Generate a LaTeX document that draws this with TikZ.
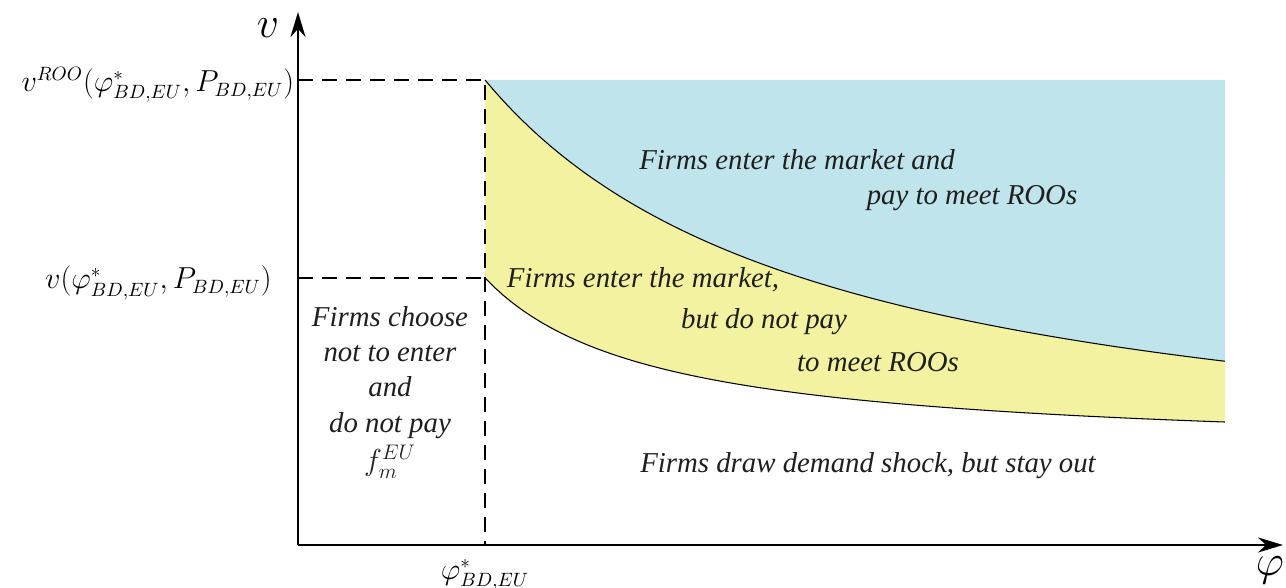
\documentclass[tikz,border=0pt]{standalone}
\usepackage{fontspec}
\usepackage{amsmath}
\newfontfamily\labelfont{Liberation Serif}
\usetikzlibrary{arrows.meta, positioning}
\definecolor{payblue}{RGB}{191,228,236}
\definecolor{enteryellow}{RGB}{242,242,160}
\begin{document}
\begin{tikzpicture}[
    declare function={vroo(\x)=1.075+56.26/(3.1+\x); vlow(\x)=1.806+11.864/(\x-0.384);},
    axis/.style={
      line width=1.6pt,
      -{Stealth[length=5mm, width=3mm]}
    },
    guide/.style={
      dashed,
      line width=1.1pt,
      dash pattern=on 3mm off 1.8mm
    },
    curve/.style={
      line width=0.6pt,
      samples=80
    },
    region/.style={
      font=\labelfont\itshape\fontsize{16.4}{20}\selectfont,
      text=black!88,
      align=center,
      inner sep=0pt
    },
    tick/.style={
      font=\fontsize{16}{20}\selectfont,
      inner sep=2pt
    },
    axlabel/.style={
      font=\fontsize{23}{26}\selectfont,
      inner sep=0pt
    }
  ]

    \useasboundingbox (-5.96,-0.86) rectangle (19.76,10.9);

    % Key points
    \coordinate (origin) at (0,0);
    \coordinate (xend) at (19.7,0);
    \coordinate (yend) at (0,10.66);
    \coordinate (roo) at (0,9.3);
    \coordinate (low) at (0,5.34);
    \coordinate (cut) at (3.74,0);
    \coordinate (cutroo) at (3.74,9.3);
    \coordinate (cutlow) at (3.74,5.34);
    \coordinate (edge) at (18.54,9.3);

    % Regions
    \fill[payblue] (cutroo) -- plot[domain=3.74:18.54, samples=80] (\x,{vroo(\x)}) -- (edge) -- cycle;
    \fill[enteryellow] plot[domain=3.74:18.54, samples=80] (\x,{vroo(\x)})
      -- plot[domain=18.54:3.74, samples=80] (\x,{vlow(\x)}) -- cycle;

    % Cutoff curves
    \draw[curve] plot[domain=3.74:18.54] (\x,{vroo(\x)});
    \draw[curve] plot[domain=3.74:18.54] (\x,{vlow(\x)});

    % Guides
    \draw[guide] (roo) -- (cutroo) -- (cut);
    \draw[guide] (low) -- (cutlow);

    % Axes
    \draw[axis] (origin) -- (xend);
    \draw[axis] (origin) -- (yend);

    % Axis labels
    \node[axlabel] (vlabel) at (-0.6,10.34) {$v$};
    \node[axlabel] (philabel) at (19.44,-0.5) {$\varphi$};
    \node[tick, anchor=east] (roolabel) at (0,9.2) {$v^{ROO}(\varphi^*_{BD,EU},P_{BD,EU})$};
    \node[tick, anchor=east] (lowlabel) at (-0.45,5.24) {$v(\varphi^*_{BD,EU},P_{BD,EU})$};
    \node[tick] (cutlabel) at (3.74,-0.6) {$\varphi^*_{BD,EU}$};

    % Region texts
    \node[region] (payA) at (9.98,7.7) {Firms enter the market and};
    \node[region] (payB) at (13.48,6.94) {pay to meet ROOs};
    \node[region] (enterA) at (6.9,5.3) {Firms enter the market,};
    \node[region] (enterB) at (9.32,4.46) {but do not pay};
    \node[region] (enterC) at (11.6,3.66) {to meet ROOs};
    \node[region] (stay) at (1.84,3.05)
      {Firms choose\\not to enter\\and\\do not pay\\[2pt]$f_m^{EU}$};
    \node[region] (out) at (11.4,1.58) {Firms draw demand shock, but stay out};

  \end{tikzpicture}
\end{document}
